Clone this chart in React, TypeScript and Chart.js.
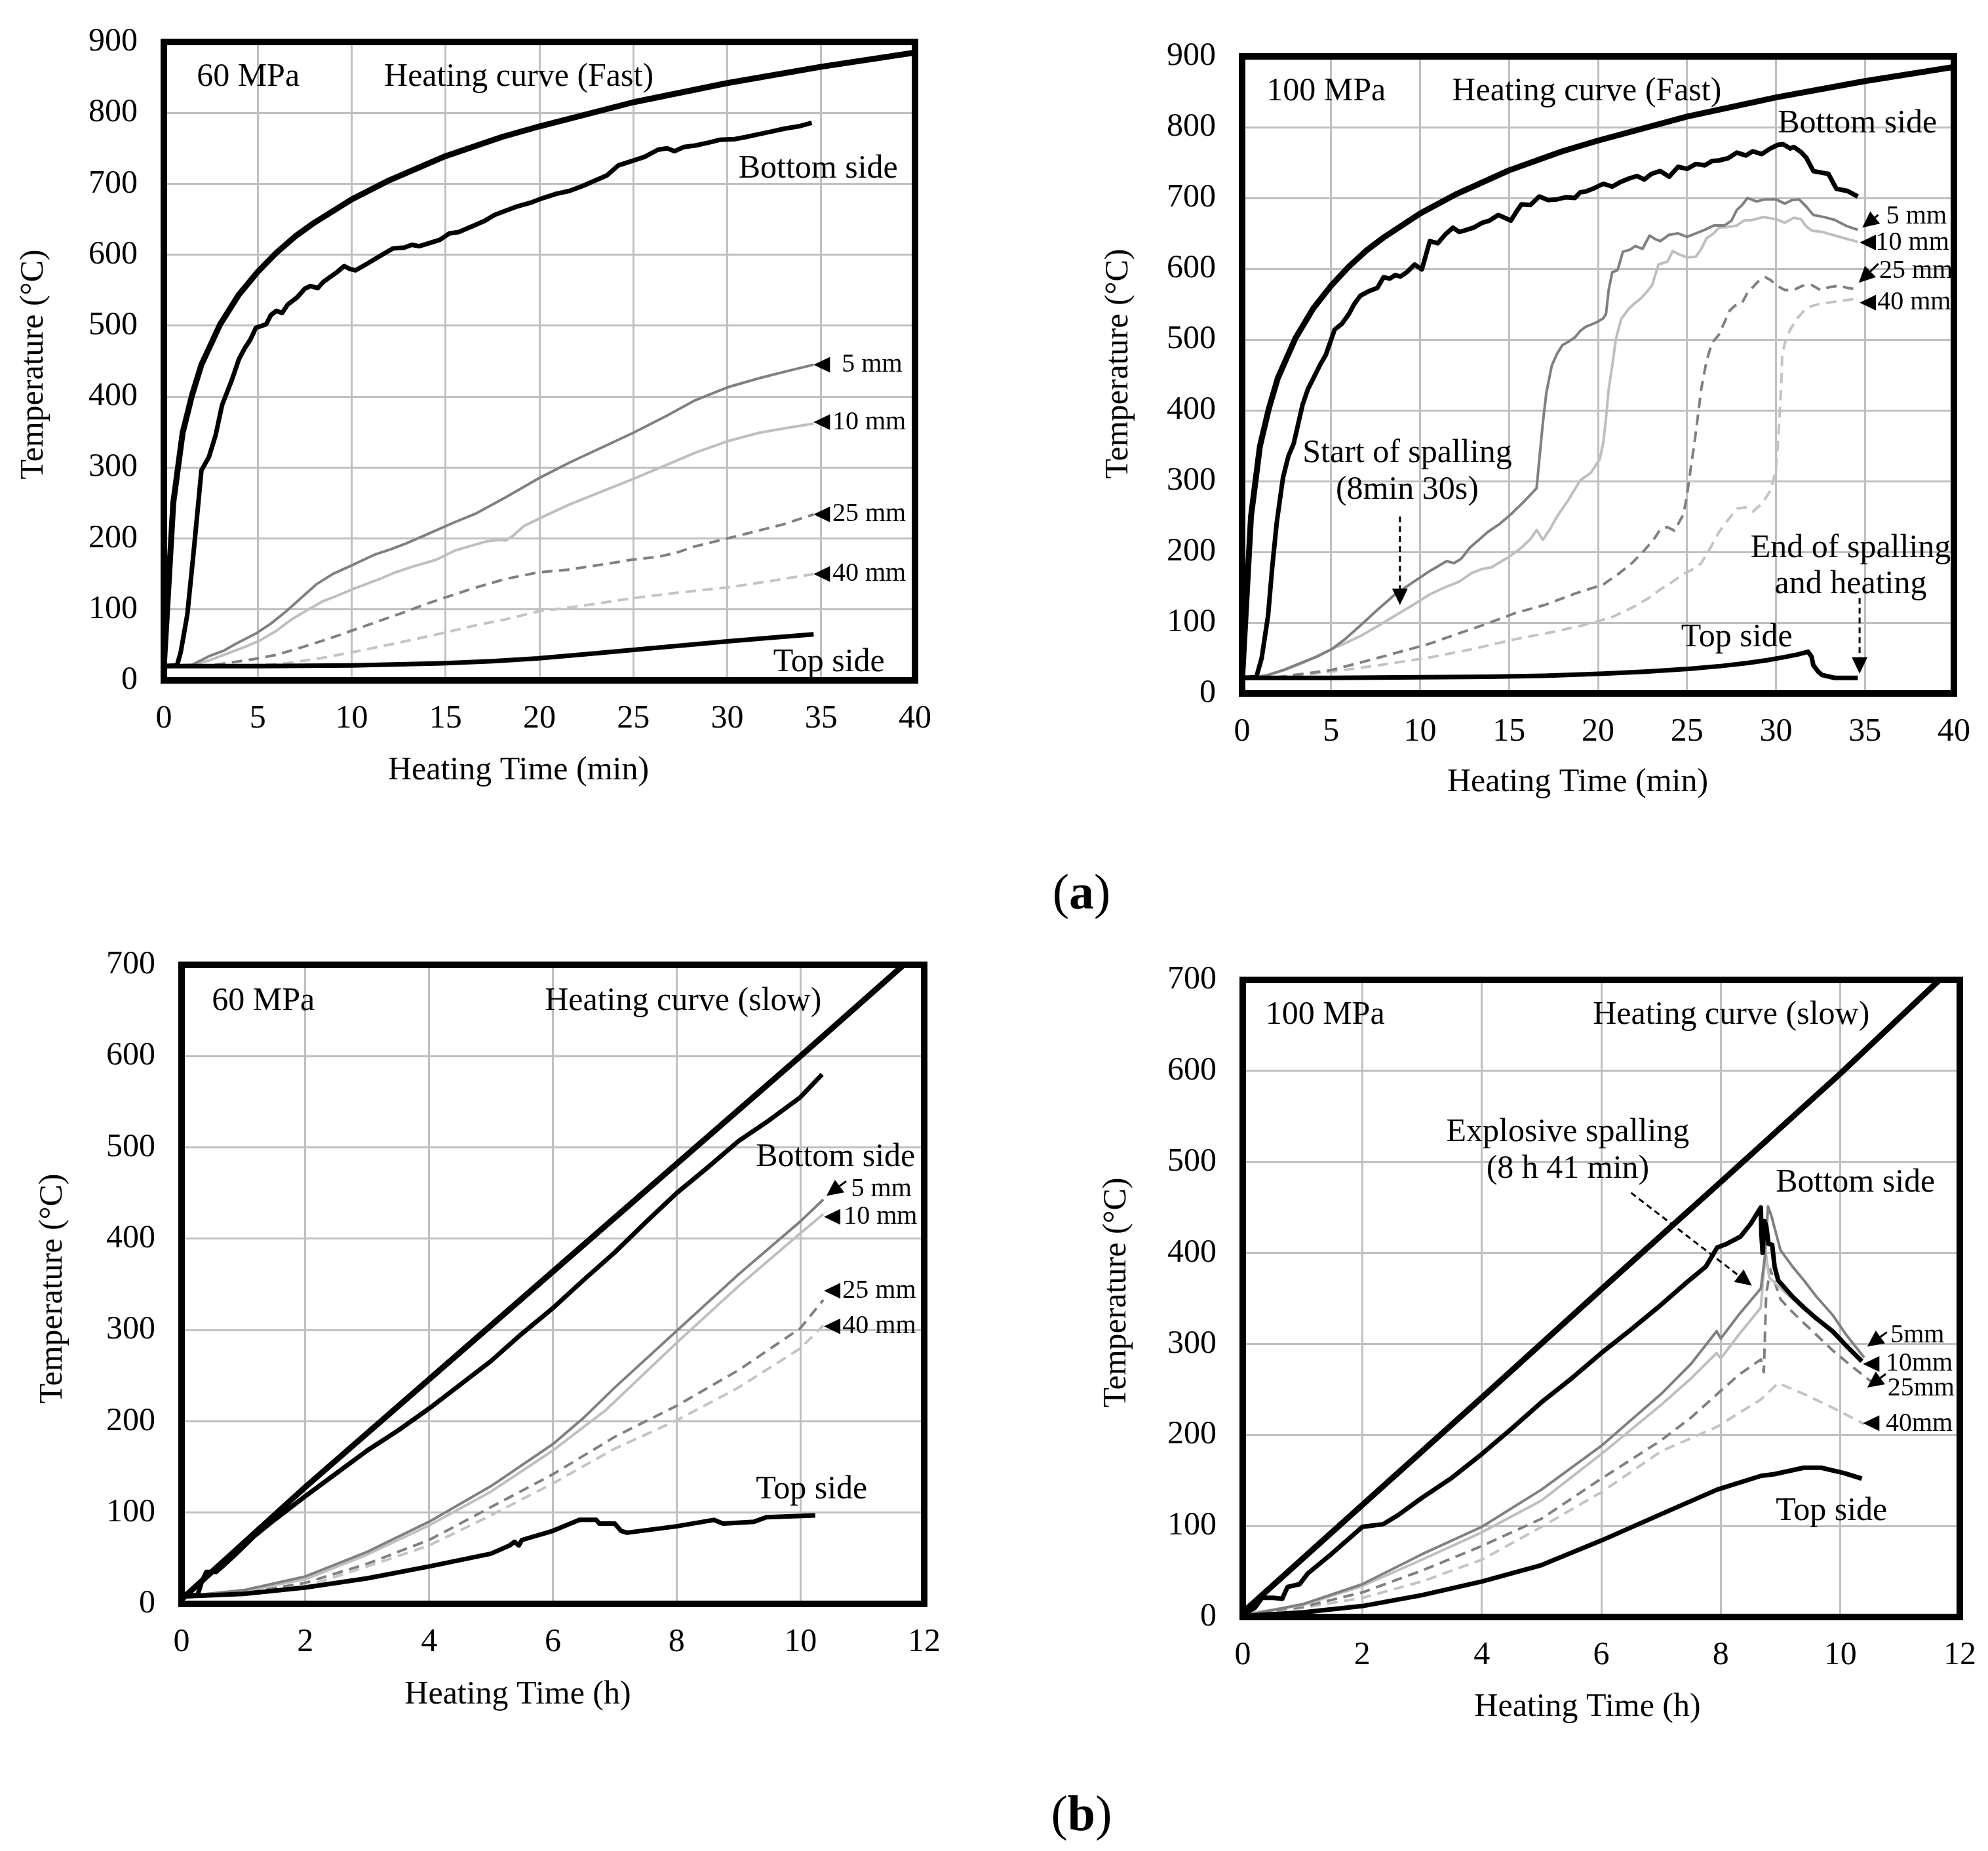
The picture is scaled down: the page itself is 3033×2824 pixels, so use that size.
import Chart from "chart.js/auto";
import { useEffect, useRef } from "react";

type Pt = [number, number];

// ---------- (a) fast heating, 60 MPa ----------
const fastHeating: Pt[] = [[0, 20], [0.5, 250], [1, 349], [1.5, 402], [2, 445], [3, 502], [4, 544], [5, 576], [6, 603], [7, 626], [8, 645], [10, 678], [12, 705], [15, 739], [18, 766], [20, 781], [25, 815], [30, 842], [35, 865], [40, 885]];
const a60Bottom: Pt[] = [[0, 20], [0.7, 21], [0.9, 40], [1.25, 93], [1.6, 185], [2.0, 296], [2.4, 315], [2.76, 346], [3.1, 388], [3.6, 422], [4.0, 453], [4.3, 468], [4.6, 480], [4.9, 497], [5.45, 502], [5.7, 515], [6.0, 521], [6.3, 518], [6.6, 530], [7.1, 540], [7.5, 552], [7.8, 556], [8.2, 553], [8.5, 562], [9.2, 575], [9.6, 584], [9.9, 580], [10.2, 578], [10.8, 587], [11.5, 598], [12.2, 609], [12.8, 610], [13.2, 614], [13.6, 612], [14.7, 621], [15.2, 630], [15.7, 632], [16.5, 641], [17.1, 648], [17.6, 656], [18.2, 662], [18.8, 668], [19.6, 674], [20.2, 680], [20.9, 686], [21.6, 690], [22.3, 697], [23.0, 705], [23.6, 712], [24.2, 726], [24.9, 732], [25.6, 738], [26.3, 748], [26.8, 750], [27.2, 746], [27.7, 752], [28.3, 754], [29.0, 758], [29.6, 762], [30.4, 763], [31.0, 766], [31.7, 770], [32.4, 774], [33.1, 778], [33.8, 781], [34.5, 786]];
const a60Top: Pt[] = [[0, 20], [5, 20], [10, 21], [14.8, 24], [17.5, 27], [19.9, 31], [22.5, 37], [25.0, 43], [27.5, 49], [30.0, 55], [32.3, 60], [34.6, 65]];
const a60mm5: Pt[] = [[0, 20], [1.5, 22], [2.4, 34], [3.2, 42], [3.8, 51], [4.9, 66], [5.7, 80], [6.5, 97], [7.3, 116], [8.1, 135], [9.0, 150], [10.0, 162], [11.2, 177], [12.1, 185], [12.9, 193], [14.2, 208], [15.4, 222], [16.6, 235], [18.2, 258], [19.9, 284], [21.6, 307], [23.3, 328], [25.0, 349], [26.7, 372], [28.3, 395], [30.0, 413], [31.7, 426], [33.2, 436], [34.6, 445]];
const a60mm10: Pt[] = [[0, 20], [1.4, 21], [2.4, 28], [3.4, 38], [4.3, 47], [5.1, 56], [6.0, 70], [6.8, 86], [7.7, 100], [8.5, 112], [9.3, 120], [10.0, 128], [10.8, 136], [11.5, 143], [12.3, 152], [13.2, 160], [14.5, 170], [15.5, 183], [16.4, 190], [17.2, 196], [17.9, 198], [18.2, 197], [18.6, 204], [19.2, 218], [20.3, 232], [21.6, 248], [23.3, 266], [25.0, 284], [26.7, 303], [28.3, 321], [30.0, 337], [31.7, 349], [33.2, 356], [34.6, 362]];
const a60mm25: Pt[] = [[0, 20], [2.5, 21], [4.8, 30], [6.0, 36], [7.4, 47], [8.7, 58], [10.0, 70], [11.5, 84], [12.9, 97], [14.0, 108], [14.9, 116], [16.5, 130], [18.2, 143], [19.9, 152], [21.5, 156], [23.3, 163], [24.9, 170], [26.3, 174], [27.3, 180], [28.3, 189], [30.0, 200], [31.5, 210], [33.0, 220], [34.6, 234]];
const a60mm40: Pt[] = [[0, 20], [4.5, 21], [6.5, 24], [8.3, 31], [10.1, 40], [12.5, 53], [14.9, 67], [16.5, 77], [18.2, 86], [19.9, 97], [22.5, 106], [25.0, 116], [27.5, 124], [30.0, 131], [32.3, 140], [34.6, 150]];

// ---------- (a) fast heating, 100 MPa ----------
const b100Bottom: Pt[] = [[0, 22], [0.8, 23], [1.1, 50], [1.46, 110], [1.7, 180], [1.95, 242], [2.3, 305], [2.6, 335], [2.9, 353], [3.4, 408], [3.7, 430], [4.06, 448], [4.4, 465], [4.7, 478], [5.2, 514], [5.6, 522], [6.0, 536], [6.3, 550], [6.65, 562], [7.1, 568], [7.6, 573], [7.95, 588], [8.3, 586], [8.6, 591], [8.9, 589], [9.25, 595], [9.7, 606], [10.1, 599], [10.55, 639], [11.0, 636], [11.4, 648], [11.85, 658], [12.2, 652], [12.5, 654], [13.0, 658], [13.5, 665], [13.9, 668], [14.4, 676], [15.1, 668], [15.4, 680], [15.7, 691], [16.2, 690], [16.7, 702], [17.2, 697], [17.7, 698], [18.2, 701], [18.7, 700], [19.0, 708], [19.3, 709], [19.8, 714], [20.3, 720], [20.8, 716], [21.3, 723], [21.8, 728], [22.2, 731], [22.6, 726], [23.0, 734], [23.5, 738], [24.0, 730], [24.5, 744], [25.0, 741], [25.5, 748], [26.0, 746], [26.4, 752], [26.8, 753], [27.3, 756], [27.8, 764], [28.3, 760], [28.7, 766], [29.2, 762], [29.7, 770], [30.1, 775], [30.4, 776], [30.8, 770], [31.0, 772], [31.4, 765], [31.7, 757], [32.1, 738], [32.5, 736], [32.95, 734], [33.2, 722], [33.4, 713], [34.0, 710], [34.6, 702]];
const b100Top: Pt[] = [[0, 22], [5, 22], [10, 23], [13.8, 23.5], [17, 25], [20.3, 28], [22.8, 31], [25.2, 35], [27, 39], [28.4, 43], [29.5, 47], [30.4, 51], [31.2, 55], [31.8, 59], [32.0, 52], [32.1, 40], [32.4, 30], [32.6, 26], [33.3, 22], [34.6, 22]];
const b100mm5: Pt[] = [[0, 20], [1.46, 26], [2.4, 34], [3.4, 44], [4.2, 52], [5.0, 62], [5.8, 77], [6.65, 96], [7.6, 118], [8.6, 140], [9.6, 157], [10.55, 173], [11.5, 187], [11.9, 184], [12.3, 190], [12.8, 206], [13.3, 217], [13.8, 228], [14.5, 240], [15.1, 253], [15.8, 270], [16.55, 290], [16.7, 330], [16.9, 382], [17.1, 425], [17.4, 463], [17.7, 480], [18.0, 492], [18.4, 498], [18.7, 503], [19.0, 512], [19.3, 518], [19.7, 522], [19.97, 525], [20.3, 530], [20.45, 536], [20.6, 570], [20.8, 595], [21.1, 598], [21.4, 624], [21.8, 627], [22.1, 632], [22.5, 628], [22.9, 647], [23.2, 642], [23.5, 639], [24.0, 648], [24.5, 650], [25.0, 645], [25.5, 650], [26.0, 655], [26.5, 661], [27.1, 661], [27.5, 668], [27.8, 683], [28.1, 690], [28.4, 700], [28.9, 695], [29.4, 698], [30.0, 698], [30.5, 692], [30.9, 697], [31.3, 698], [31.7, 688], [32.1, 676], [32.7, 673], [33.3, 669], [34.0, 660], [34.6, 655]];
const b100mm10: Pt[] = [[0, 22], [1.0, 23], [2.4, 33], [3.5, 44], [4.7, 59], [5.7, 70], [6.65, 81], [7.6, 95], [8.6, 110], [9.6, 125], [10.55, 140], [11.4, 150], [12.2, 158], [12.9, 170], [13.5, 176], [14.0, 178], [14.4, 184], [15.0, 193], [15.7, 206], [16.2, 218], [16.55, 231], [16.9, 217], [17.3, 232], [17.7, 250], [18.3, 272], [19.0, 301], [19.6, 312], [20.1, 331], [20.3, 355], [20.45, 389], [20.6, 430], [20.8, 463], [21.0, 500], [21.3, 529], [21.75, 544], [22.1, 552], [22.4, 558], [22.7, 566], [23.05, 577], [23.2, 590], [23.4, 606], [23.9, 610], [24.2, 625], [24.5, 621], [25.0, 616], [25.5, 617], [25.8, 628], [26.1, 643], [26.5, 650], [26.8, 658], [27.3, 659], [27.8, 661], [28.2, 668], [28.7, 669], [29.3, 673], [30.0, 670], [30.5, 665], [31.0, 672], [31.4, 670], [31.7, 660], [32.0, 654], [32.6, 652], [33.3, 647], [34.0, 642], [34.6, 638]];
const b100mm25: Pt[] = [[0, 22], [2.0, 23], [5.0, 33], [7.0, 46], [8.9, 59], [10.5, 70], [12.2, 85], [13.8, 99], [15.4, 114], [17.0, 125], [18.7, 141], [20.3, 154], [21.1, 168], [21.9, 184], [22.6, 202], [23.2, 220], [23.5, 232], [23.9, 235], [24.3, 230], [24.8, 253], [25.0, 280], [25.2, 316], [25.4, 350], [25.6, 389], [25.8, 430], [26.1, 470], [26.4, 495], [26.8, 507], [27.1, 524], [27.4, 541], [27.7, 548], [28.1, 552], [28.4, 566], [28.7, 574], [29.0, 582], [29.4, 588], [29.7, 584], [30.0, 577], [30.5, 570], [31.0, 570], [31.5, 576], [32.0, 577], [32.5, 570], [33.0, 574], [33.6, 576], [34.0, 573], [34.6, 571]];
const b100mm40: Pt[] = [[0, 22], [2.5, 23], [5.7, 33], [8.0, 41], [10.55, 51], [13.0, 63], [15.4, 77], [17.5, 87], [19.6, 99], [20.8, 108], [21.9, 121], [22.8, 134], [23.5, 147], [24.2, 158], [24.8, 169], [25.3, 175], [25.8, 184], [26.3, 205], [26.8, 228], [27.3, 245], [27.8, 261], [28.3, 263], [28.7, 257], [29.2, 268], [29.7, 287], [30.0, 316], [30.1, 350], [30.2, 389], [30.3, 440], [30.35, 478], [30.5, 495], [30.8, 514], [31.2, 530], [31.7, 544], [32.1, 548], [32.6, 551], [33.5, 554], [34.6, 558]];

// ---------- (b) slow heating, 60 MPa ----------
const c60Heating: Pt[] = [[0, 5], [2, 128], [4, 246], [6, 364], [8, 482], [10, 600], [11.67, 700]];
const c60Bottom: Pt[] = [[0, 8], [0.26, 10], [0.33, 25], [0.4, 35], [0.56, 35], [0.66, 41], [0.87, 54], [1.17, 74], [1.5, 92], [2.0, 118], [2.5, 143], [3.0, 168], [3.5, 190], [4.0, 214], [4.5, 240], [5.0, 266], [5.5, 296], [6.0, 324], [6.5, 355], [7.0, 385], [7.5, 418], [8.0, 450], [8.5, 478], [9.0, 507], [9.5, 530], [10.0, 555], [10.35, 580]];
const c60Top: Pt[] = [[0, 8], [1, 11], [2, 18], [3, 28], [4, 41], [5, 55], [5.3, 64], [5.38, 68], [5.45, 64], [5.5, 70], [6, 80], [6.43, 92], [6.7, 92], [6.75, 88], [7.0, 88], [7.1, 80], [7.2, 78], [8, 85], [8.6, 92], [8.75, 88], [9.25, 90], [9.45, 95], [10.24, 97]];
const c60mm5: Pt[] = [[0, 8], [1, 15], [2, 30], [3, 57], [4, 90], [5, 129], [6, 175], [6.5, 204], [7, 237], [8, 299], [9, 361], [10, 419], [10.37, 443]];
const c60mm10: Pt[] = [[0, 8], [1, 14], [2, 27], [3, 54], [4, 86], [5, 123], [6, 168], [6.85, 212], [8, 286], [9, 348], [10, 406], [10.37, 427]];
const c60mm25: Pt[] = [[0, 8], [1, 12], [2, 23], [3, 44], [4, 70], [5, 106], [6, 142], [7, 183], [8, 217], [9, 256], [10, 302], [10.37, 333]];
const c60mm40: Pt[] = [[0, 8], [1, 11], [2, 19], [3, 41], [4, 64], [5, 97], [6, 132], [7, 170], [8, 201], [9, 237], [10, 280], [10.37, 305]];

// ---------- (b) slow heating, 100 MPa ----------
const d100Heating: Pt[] = [[0, 5], [2, 123], [4, 241], [6, 360], [8, 478], [10, 597], [11.66, 700]];
const d100Bottom: Pt[] = [[0, 3], [0.2, 10], [0.32, 21], [0.51, 21], [0.66, 20], [0.75, 33], [0.95, 36], [1.09, 48], [1.48, 69], [2.0, 99], [2.35, 102], [2.6, 112], [3.0, 131], [3.5, 153], [4.0, 179], [4.5, 207], [5.0, 236], [5.5, 262], [6.0, 290], [6.5, 316], [7.0, 343], [7.4, 366], [7.75, 385], [7.94, 406], [8.1, 410], [8.33, 418], [8.5, 432], [8.67, 450], [8.68, 420], [8.7, 400], [8.73, 435], [8.76, 430], [8.8, 410], [8.86, 409], [8.9, 385], [8.96, 370], [9.2, 352], [9.39, 340], [9.6, 328], [9.87, 314], [10.1, 298], [10.36, 281]];
const d100Top: Pt[] = [[0, 1], [1, 5], [2, 12], [3, 24], [4, 39], [5, 57], [6, 84], [7, 113], [7.94, 140], [8.67, 155], [8.9, 157], [9.39, 164], [9.68, 164], [10.07, 158], [10.36, 152]];
const d100mm5: Pt[] = [[0, 3], [0.22, 4], [1, 14], [2, 36], [3, 69], [4, 99], [5, 140], [6, 188], [7, 245], [7.5, 278], [7.93, 314], [8.0, 306], [8.3, 332], [8.67, 361], [8.74, 397], [8.79, 451], [8.85, 440], [9.0, 403], [9.2, 385], [9.39, 370], [9.6, 352], [9.87, 332], [10.1, 310], [10.4, 285]];
const d100mm10: Pt[] = [[0, 3], [1, 13], [2, 34], [3, 63], [4, 93], [5, 128], [6, 179], [7, 233], [7.5, 262], [7.93, 290], [8.0, 284], [8.3, 310], [8.67, 340], [8.72, 380], [8.76, 397], [8.81, 373], [9.1, 355], [9.4, 338], [9.87, 314], [10.1, 298], [10.36, 281]];
const d100mm25: Pt[] = [[0, 3], [1, 11], [2, 27], [3, 51], [4, 78], [5, 108], [6, 152], [7, 194], [7.5, 219], [7.94, 245], [8.3, 266], [8.67, 283], [8.72, 269], [8.76, 355], [8.83, 382], [9.0, 349], [9.2, 335], [9.39, 323], [9.6, 310], [9.87, 293], [10.2, 275], [10.55, 257]];
const d100mm40: Pt[] = [[0, 3], [1, 10], [2, 21], [3, 39], [4, 63], [5, 99], [6, 137], [7, 182], [7.94, 209], [8.3, 224], [8.67, 239], [8.96, 257], [9.39, 245], [9.87, 230], [10.4, 212]];

// line styles
const HEAT = { color: "#000000", width: 9 };
const SIDE = { color: "#000000", width: 7 };
const MM5 = { color: "#808080", width: 4 };
const MM10 = { color: "#bfbfbf", width: 4 };
const MM25 = { color: "#808080", width: 4, dash: [16, 10] };
const MM40 = { color: "#c4c4c4", width: 4, dash: [16, 10] };

const FONT = "'Liberation Serif', 'Times New Roman', serif";
const Y_TITLE = "Temperature (°C)";

type Style = { color: string; width: number; dash?: number[] };
type Note = { text: string; x: number; y: number; align?: CanvasTextAlign; size?: number };
type Arrow = { x1: number; y1: number; x2: number; y2: number; dash?: boolean };
type Panel = {
  left: number; top: number; width: number; height: number;
  padTop: number; padRight: number; yWidth: number; xHeight: number;
  xTitleAt: [number, number]; yTitleAt: [number, number];
  xMax: number; xStep: number; yMax: number; xTitle: string;
  series: [Pt[], Style][];
  notes: Note[];
  arrows: Arrow[];
};

const mark = (x2: number, y: number, dx: number): Arrow => ({ x1: x2 + dx, y1: y, x2, y2: y });

const panels: Panel[] = [
  {
    left: 0, top: 0, width: 1500, height: 1240, padTop: 64, padRight: 104, yWidth: 250, xHeight: 202,
    xTitleAt: [791, 1176], yTitleAt: [52, 556],
    xMax: 40, xStep: 5, yMax: 900, xTitle: "Heating Time (min)",
    series: [[fastHeating, HEAT], [a60Bottom, SIDE], [a60Top, SIDE], [a60mm5, MM5], [a60mm10, MM10], [a60mm25, MM25], [a60mm40, MM40]],
    notes: [
      { text: "60 MPa", x: 1.75, y: 850 },
      { text: "Heating curve (Fast)", x: 11.73, y: 850 },
      { text: "Bottom side", x: 30.6, y: 721 },
      { text: "Top side", x: 32.45, y: 25 },
      { text: "5 mm", x: 36.1, y: 445, size: 40 },
      { text: "10 mm", x: 35.6, y: 364, size: 40 },
      { text: "25 mm", x: 35.6, y: 234, size: 40 },
      { text: "40 mm", x: 35.6, y: 150, size: 40 },
    ],
    arrows: [mark(34.6, 445, 0.9), mark(34.6, 364, 0.9), mark(34.6, 234, 0.9), mark(34.6, 150, 0.9)],
  },
  {
    left: 1600, top: 0, width: 1433, height: 1260, padTop: 86, padRight: 52, yWidth: 295, xHeight: 202,
    xTitleAt: [2407, 1194], yTitleAt: [1707, 555],
    xMax: 40, xStep: 5, yMax: 900, xTitle: "Heating Time (min)",
    series: [[fastHeating, HEAT], [b100Bottom, SIDE], [b100Top, SIDE], [b100mm5, MM5], [b100mm10, MM10], [b100mm25, MM25], [b100mm40, MM40]],
    notes: [
      { text: "100 MPa", x: 1.37, y: 850 },
      { text: "Heating curve (Fast)", x: 11.8, y: 850 },
      { text: "Bottom side", x: 30.1, y: 805 },
      { text: "Start of spalling", x: 9.28, y: 339, align: "center" },
      { text: "(8min 30s)", x: 9.28, y: 287, align: "center" },
      { text: "End of spalling", x: 34.2, y: 205, align: "center" },
      { text: "and heating", x: 34.2, y: 154, align: "center" },
      { text: "Top side", x: 27.8, y: 79, align: "center" },
      { text: "5 mm", x: 36.2, y: 674, size: 40 },
      { text: "10 mm", x: 35.6, y: 637, size: 40 },
      { text: "25 mm", x: 35.8, y: 597, size: 40 },
      { text: "40 mm", x: 35.7, y: 552, size: 40 },
    ],
    arrows: [
      { x1: 8.87, y1: 250, x2: 8.87, y2: 125, dash: true },
      { x1: 34.7, y1: 135, x2: 34.7, y2: 28, dash: true },
      { x1: 35.75, y1: 676, x2: 34.85, y2: 658 },
      mark(34.7, 637, 0.9),
      { x1: 35.75, y1: 607, x2: 34.65, y2: 580 },
      mark(34.7, 552, 0.9),
    ],
  },
  {
    left: 0, top: 1400, width: 1500, height: 1300, padTop: 72, padRight: 90, yWidth: 277, xHeight: 253,
    xTitleAt: [790, 2586], yTitleAt: [81, 1966],
    xMax: 12, xStep: 2, yMax: 700, xTitle: "Heating Time (h)",
    series: [[c60Heating, HEAT], [c60Bottom, SIDE], [c60Top, SIDE], [c60mm5, MM5], [c60mm10, MM10], [c60mm25, MM25], [c60mm40, MM40]],
    notes: [
      { text: "60 MPa", x: 0.49, y: 660 },
      { text: "Heating curve (slow)", x: 5.87, y: 660 },
      { text: "Bottom side", x: 9.28, y: 489 },
      { text: "Top side", x: 9.28, y: 125 },
      { text: "5 mm", x: 10.82, y: 454, size: 40 },
      { text: "10 mm", x: 10.7, y: 424, size: 40 },
      { text: "25 mm", x: 10.68, y: 343, size: 40 },
      { text: "40 mm", x: 10.68, y: 304, size: 40 },
    ],
    arrows: [
      { x1: 10.74, y1: 463, x2: 10.42, y2: 447 },
      mark(10.38, 424, 0.28), mark(10.38, 343, 0.28), mark(10.38, 304, 0.28),
    ],
  },
  {
    left: 1600, top: 1400, width: 1433, height: 1300, padTop: 95, padRight: 43, yWidth: 296, xHeight: 233,
    xTitleAt: [2422, 2605], yTitleAt: [1704, 1972],
    xMax: 12, xStep: 2, yMax: 700, xTitle: "Heating Time (h)",
    series: [[d100Heating, HEAT], [d100Bottom, SIDE], [d100Top, SIDE], [d100mm5, MM5], [d100mm10, MM10], [d100mm25, MM25], [d100mm40, MM40]],
    notes: [
      { text: "100 MPa", x: 0.38, y: 661 },
      { text: "Heating curve (slow)", x: 5.86, y: 661 },
      { text: "Explosive spalling", x: 5.44, y: 532, align: "center" },
      { text: "(8 h 41 min)", x: 5.44, y: 492, align: "center" },
      { text: "Bottom side", x: 8.92, y: 477 },
      { text: "Top side", x: 8.92, y: 116 },
      { text: "5mm", x: 10.84, y: 309, size: 40 },
      { text: "10mm", x: 10.76, y: 278, size: 40 },
      { text: "25mm", x: 10.79, y: 251, size: 40 },
      { text: "40mm", x: 10.76, y: 212, size: 40 },
    ],
    arrows: [
      { x1: 6.5, y1: 466, x2: 8.52, y2: 364, dash: true },
      { x1: 10.78, y1: 313, x2: 10.45, y2: 297 },
      mark(10.38, 278, 0.29),
      { x1: 10.76, y1: 267, x2: 10.45, y2: 252 },
      mark(10.38, 213, 0.29),
    ],
  },
];

const notesPlugin = (p: Panel) => ({
  id: "notes",
  afterDraw(chart: any) {
    const { ctx, chartArea: a, scales } = chart;
    const px = (v: number) => scales.x.getPixelForValue(v);
    const py = (v: number) => scales.y.getPixelForValue(v);
    ctx.save();
    // frame
    ctx.strokeStyle = "#000";
    ctx.lineWidth = 10;
    ctx.setLineDash([]);
    ctx.strokeRect(a.left, a.top, a.right - a.left, a.bottom - a.top);
    // arrows
    ctx.fillStyle = "#000";
    for (const ar of p.arrows) {
      const x1 = px(ar.x1), y1 = py(ar.y1), x2 = px(ar.x2), y2 = py(ar.y2);
      const ang = Math.atan2(y2 - y1, x2 - x1);
      const hl = 25, hw = 12;
      const bx = x2 - hl * Math.cos(ang), by = y2 - hl * Math.sin(ang);
      if (Math.hypot(x2 - x1, y2 - y1) > hl + 2) {
        ctx.lineWidth = 3;
        ctx.setLineDash(ar.dash ? [9, 6] : []);
        ctx.beginPath();
        ctx.moveTo(x1, y1);
        ctx.lineTo(bx, by);
        ctx.stroke();
        ctx.setLineDash([]);
      }
      ctx.beginPath();
      ctx.moveTo(x2, y2);
      ctx.lineTo(bx + hw * Math.sin(ang), by - hw * Math.cos(ang));
      ctx.lineTo(bx - hw * Math.sin(ang), by + hw * Math.cos(ang));
      ctx.closePath();
      ctx.fill();
    }
    // texts inside the plot
    ctx.textBaseline = "middle";
    for (const n of p.notes) {
      ctx.font = `${n.size ?? 50}px ${FONT}`;
      ctx.textAlign = n.align ?? "left";
      ctx.fillText(n.text, px(n.x), py(n.y));
    }
    // axis titles (centred as in the original figure, not on the plot area)
    ctx.font = `50px ${FONT}`;
    ctx.textAlign = "center";
    ctx.fillText(p.xTitle, p.xTitleAt[0] - p.left, p.xTitleAt[1] - p.top);
    ctx.translate(p.yTitleAt[0] - p.left, p.yTitleAt[1] - p.top);
    ctx.rotate(-Math.PI / 2);
    ctx.fillText(Y_TITLE, 0, 0);
    ctx.restore();
  },
});

const PanelChart: React.FC<{ p: Panel }> = ({ p }) => {
  const chartRef = useRef<HTMLCanvasElement | null>(null);

  useEffect(() => {
    if (!chartRef.current) return;
    const axisFont = { family: FONT, size: 50, lineHeight: 1 };
    const grid = { color: "#c0c0c0", lineWidth: 3, drawTicks: false };
    const myChart = new Chart(chartRef.current, {
      type: "scatter",
      data: {
        datasets: p.series.map(([pts, s]) => ({
          data: pts.map(([x, y]) => ({ x, y })),
          showLine: true,
          borderColor: s.color,
          backgroundColor: s.color,
          borderWidth: s.width,
          borderDash: s.dash ?? [],
          borderJoinStyle: "round",
          pointRadius: 0,
          tension: 0,
        })),
      },
      options: {
        responsive: false,
        animation: false,
        devicePixelRatio: 1,
        layout: { padding: { top: p.padTop, right: p.padRight, left: 0, bottom: 0 } },
        plugins: { legend: { display: false }, tooltip: { enabled: false } },
        scales: {
          x: {
            type: "linear", min: 0, max: p.xMax,
            ticks: { stepSize: p.xStep, padding: 34, color: "#000", font: axisFont, maxRotation: 0, autoSkip: false },
            grid, border: { display: false },
            title: { display: false, text: p.xTitle },
            afterFit: (s: any) => { s.height = p.xHeight; s.paddingLeft = 0; s.paddingRight = 0; },
          },
          y: {
            type: "linear", min: 0, max: p.yMax,
            ticks: { stepSize: 100, padding: 40, color: "#000", font: axisFont, autoSkip: false },
            grid, border: { display: false },
            title: { display: false, text: Y_TITLE },
            afterFit: (s: any) => { s.width = p.yWidth; s.paddingTop = 0; s.paddingBottom = 0; },
          },
        },
      },
      plugins: [notesPlugin(p)],
    } as any);
    return () => myChart.destroy();
  }, [p]);

  return (
    <canvas
      ref={chartRef}
      width={p.width}
      height={p.height}
      style={{ position: "absolute", left: p.left, top: p.top, width: p.width, height: p.height }}
    />
  );
};

const caption = (letter: string, y: number) => (
  <div style={{ position: "absolute", left: 1650, top: y, transform: "translate(-50%, -50%)", fontFamily: FONT, fontSize: 76, lineHeight: 1, color: "#000" }}>
    (<b>{letter}</b>)
  </div>
);

export default function App() {
  return (
    <div style={{ position: "absolute", left: 0, top: 0, width: 3033, height: 2824, background: "#fff", overflow: "hidden" }}>
      {panels.map((p, i) => <PanelChart key={i} p={p} />)}
      {caption("a", 1360)}
      {caption("b", 2766)}
    </div>
  );
}
